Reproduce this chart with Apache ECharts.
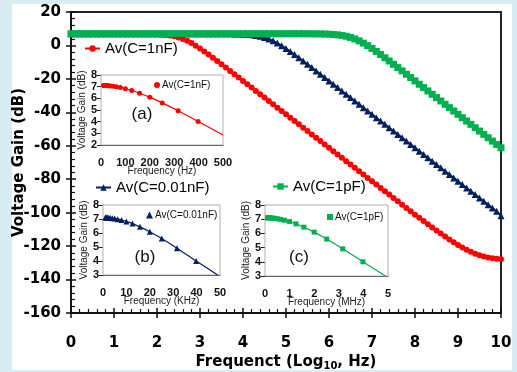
<!DOCTYPE html>
<html><head><meta charset="utf-8">
<script src="https://cdn.jsdelivr.net/npm/echarts@6/dist/echarts.min.js"></script>
<style>html,body{margin:0;padding:0;background:#d8ecf4;}#c{width:517px;height:372px;}</style>
</head><body><div id="c"></div>
<script>
// ---- main chart data (x = log10 of frequency) ----
const logFreq = [0,0.1,0.2,0.3,0.4,0.5,0.6,0.7,0.8,0.9,1,1.1,1.2,1.3,1.4,1.5,1.6,1.7,1.8,1.9,2,2.1,2.2,2.3,2.4,2.5,2.6,2.7,2.8,2.9,3,3.1,3.2,3.3,3.4,3.5,3.6,3.7,3.8,3.9,4,4.1,4.2,4.3,4.4,4.5,4.6,4.7,4.8,4.9,5,5.1,5.2,5.3,5.4,5.5,5.6,5.7,5.8,5.9,6,6.1,6.2,6.3,6.4,6.5,6.6,6.7,6.8,6.9,7,7.1,7.2,7.3,7.4,7.5,7.6,7.7,7.8,7.9,8,8.1,8.2,8.3,8.4,8.5,8.6,8.7,8.8,8.9,9,9.1,9.2,9.3,9.4,9.5,9.6,9.7,9.8,9.9,10];
const gain1nF = [7,7,7,7,7,7,7,7,7,7,7,7,7,7,7,7,
  6.95,6.93,6.89,6.82,6.72,6.57,6.33,5.99,5.49,4.8,3.89,2.75,1.4,-0.13,-1.81,-3.6,-5.45,-7.36,-9.3,-11.27,-13.24,-15.22,-17.22,-19.21,-21.2,
  -23.2,-25.2,-27.2,-29.2,-31.2,-33.2,-35.2,-37.2,-39.2,-41.2,
  -43.2,-45.2,-47.2,-49.2,-51.2,-53.2,-55.2,-57.2,-59.2,-61.2,
  -63.2,-65.2,-67.2,-69.2,-71.2,-73.2,-75.2,-77.2,-79.2,-81.2,
  -83.2,-85.2,-87.2,-89.2,-91.2,-93.2,-95.2,-97.2,-99.2,-101.2,
  -103.1,-105,-106.9,-108.8,-110.7,-112.5,-114.3,-116,-117.7,-119.3,
  -120.8,-122.2,-123.4,-124.5,-125.4,-126.2,-126.8,-127.3,-127.6,-127.8];
const gain001nF = [7,7,7,7,7,7,7,7,7,7,7,7,7,7,7,7,7,7,7,7,7,7,7,7,7,7,7,7,7,7,7,7,7,7,7,7,
  6.95,6.93,6.89,6.82,6.72,6.57,6.33,5.99,5.49,4.8,3.89,2.75,1.4,-0.13,-1.81,-3.6,-5.45,-7.36,-9.3,-11.27,-13.24,-15.22,-17.22,-19.21,-21.2,
  -23.2,-25.2,-27.2,-29.2,-31.2,-33.2,-35.2,-37.2,-39.2,-41.2,
  -43.2,-45.2,-47.2,-49.2,-51.2,-53.2,-55.2,-57.2,-59.2,-61.2,
  -63.2,-65.2,-67.2,-69.2,-71.2,-73.2,-75.2,-77.2,-79.2,-81.2,
  -83.2,-85.2,-87.2,-89.2,-91.2,-93.2,-95.2,-97.2,-99.2,-101.8];
const gain1pF = [7,7,7,7,7,7,7,7,7,7,7,7,7,7,7,7,7,7,7,7,7,7,7,7,7,7,7,7,7,7,7,7,7,7,7,7,7,7,7,7,7,7,7,7,7,7,7,7,7,7,7,7,7,7,7,7,
  6.95,6.93,6.89,6.82,6.72,6.57,6.33,5.99,5.49,4.8,3.89,2.75,1.4,-0.13,-1.81,-3.6,-5.45,-7.36,-9.3,-11.27,-13.24,-15.22,-17.22,-19.21,-21.2,
  -23.2,-25.2,-27.2,-29.2,-31.2,-33.2,-35.2,-37.2,-39.2,-41.2,
  -43.2,-45.2,-47.2,-49.2,-51.2,-53.2,-55.2,-57.2,-59.2,-61.2];

// ---- inset data ----
const insetAFreqHz = [10,12.6,15.8,20,25.1,31.6,39.8,50.1,63.1,79.4,100,126,158,200,251,316,398,500];
const insetAGain   = [7.1,7.1,7.1,7.1,7.09,7.07,7.06,7.03,6.99,6.93,6.83,6.67,6.44,6.1,5.61,4.93,4.02,2.86];
const insetBFreqKHz = [1,1.26,1.58,2,2.51,3.16,3.98,5.01,6.31,7.94,10,12.6,15.8,20,25.1,31.6,39.8,49];
const insetBGain    = [7.1,7.1,7.1,7.1,7.09,7.07,7.06,7.03,6.99,6.93,6.83,6.67,6.44,6.09,5.6,4.91,4.0,3.0];
const insetCFreqMHz = [0.1,0.126,0.158,0.2,0.251,0.316,0.398,0.501,0.631,0.794,1,1.26,1.58,2,2.51,3.16,3.98,4.9];
const insetCGain    = [7.1,7.1,7.1,7.1,7.09,7.07,7.06,7.03,6.99,6.93,6.83,6.67,6.44,6.09,5.6,4.91,4.0,3.0];

const mainYTicks = [20,0,-20,-40,-60,-80,-100,-120,-140,-160];
const mainXTicks = [0,1,2,3,4,5,6,7,8,9,10];

const RED='#ff0000', NAVY='#002060', GREEN='#00b050';
const zip=(a,b)=>a.map((v,i)=>[v,b[i]]);
const insetData=(a,b)=>a.map((v,i)=>i===a.length-1?{value:[v,b[i]],symbol:'none'}:[v,b[i]]);

const tickFont={fontFamily:'DejaVu Sans',fontWeight:'bold',fontSize:15,color:'#000'};
const insetLbl={fontFamily:'Liberation Sans',fontWeight:'bold',fontSize:11,color:'#111'};
const insetName={fontFamily:'Liberation Sans',fontSize:10,color:'#222'};

function insetX(grid,min,max,interval,name){
  return {gridIndex:grid,type:'value',min,max,interval,position:'bottom',nameMoveOverlap:false,
    axisLine:{onZero:false,lineStyle:{color:'#222',width:1}},axisTick:{show:false},splitLine:{show:false},
    axisLabel:Object.assign({margin:12},insetLbl),
    name,nameLocation:'middle',nameGap:21,nameTextStyle:insetName};
}
function insetY(grid,min,max){
  return {gridIndex:grid,type:'value',min,max,interval:1,position:'left',nameMoveOverlap:false,
    axisLine:{show:true,onZero:false,lineStyle:{color:'#222',width:1}},axisTick:{show:true,length:4,lineStyle:{color:'#222'}},splitLine:{show:false},
    axisLabel:Object.assign({margin:4},insetLbl),
    name:'Voltage Gain (dB)',nameLocation:'middle',nameGap:14,nameTextStyle:insetName};
}

const gridBase={outerBoundsMode:'none',containLabel:false,show:true};
const chart=echarts.init(document.getElementById('c'),null,{renderer:'canvas'});
chart.setOption({
  backgroundColor:'transparent',
  animation:false,
  graphic:[
    {type:'rect',z:-100,silent:true,shape:{x:12,y:4,width:500,height:366},style:{fill:'#fff'}},
    {type:'text',z:100,style:{text:'(a)',x:142,y:114,align:'center',verticalAlign:'middle',font:'17px "Liberation Sans"',fill:'#111'}},
    {type:'text',z:100,style:{text:'(b)',x:145,y:257,align:'center',verticalAlign:'middle',font:'17px "Liberation Sans"',fill:'#111'}},
    {type:'text',z:100,style:{text:'(c)',x:299,y:257,align:'center',verticalAlign:'middle',font:'17px "Liberation Sans"',fill:'#111'}}
  ],
  grid:[
    Object.assign({left:71,top:12,width:430,height:301,borderColor:'#222',borderWidth:2,backgroundColor:'#fff'},gridBase),
    Object.assign({left:101,top:75,width:122,height:70,borderColor:'#b0b0b0',borderWidth:1,backgroundColor:'#fff',z:5},gridBase),
    Object.assign({left:103,top:205,width:117,height:70,borderColor:'#b0b0b0',borderWidth:1,backgroundColor:'#fff',z:5},gridBase),
    Object.assign({left:265,top:205,width:123,height:71,borderColor:'#b0b0b0',borderWidth:1,backgroundColor:'#fff',z:5},gridBase)
  ],
  xAxis:[
    {gridIndex:0,type:'value',min:mainXTicks[0],max:mainXTicks[mainXTicks.length-1],interval:1,position:'bottom',nameMoveOverlap:false,
      axisLine:{onZero:false,lineStyle:{color:'#111',width:1.5}},axisTick:{show:true,length:5,lineStyle:{color:'#111',width:1.5}},
      splitLine:{show:false},axisLabel:Object.assign({margin:23},tickFont),
      name:'{a|Frequenct (Log}{s|10}{a|, Hz)}',nameLocation:'middle',nameGap:40,
      nameTextStyle:{rich:{a:{fontFamily:'DejaVu Sans',fontWeight:'bold',fontSize:15,color:'#000'},
        s:{fontFamily:'DejaVu Sans',fontWeight:'bold',fontSize:10,color:'#000',padding:[8,0,0,0]}}}},
    {gridIndex:0,type:'value',min:0,max:10,interval:1,position:'bottom',
      axisLine:{show:false,onZero:false},axisLabel:{show:false},splitLine:{show:false},
      axisTick:{show:true,inside:true,length:5,lineStyle:{color:'#111',width:1.5}},
      minorTick:{show:true,splitNumber:5,length:4,lineStyle:{color:'#111',width:1.2}}},
    insetX(1,0,500,100,'Frequency (Hz)'),
    insetX(2,0,50,10,'Frequency (KHz)'),
    insetX(3,0,5,1,'Frequency (MHz)')
  ],
  yAxis:[
    {gridIndex:0,type:'value',min:mainYTicks[mainYTicks.length-1],max:mainYTicks[0],interval:20,position:'left',nameMoveOverlap:false,
      axisLine:{show:true,onZero:false,lineStyle:{color:'#111',width:1.5}},axisTick:{show:true,length:5,lineStyle:{color:'#111',width:1.5}},
      splitLine:{show:false},axisLabel:Object.assign({margin:10},tickFont),
      name:'Voltage Gain (dB)',nameLocation:'middle',nameGap:44,
      nameTextStyle:{fontFamily:'DejaVu Sans',fontWeight:'bold',fontSize:15,color:'#000'}},
    {gridIndex:0,type:'value',min:-160,max:20,interval:20,position:'left',
      axisLine:{show:false,onZero:false},axisLabel:{show:false},splitLine:{show:false},
      axisTick:{show:true,inside:true,length:5,lineStyle:{color:'#111',width:1.5}},
      minorTick:{show:true,splitNumber:5,length:4,lineStyle:{color:'#111',width:1.2}}},
    insetY(1,2,8),
    insetY(2,3,8),
    insetY(3,3,8)
  ],
  legend:[
    {data:['Av(C=1nF)'],left:84,top:41,padding:0,itemWidth:15,itemHeight:8,
      textStyle:{fontFamily:'Liberation Sans',fontSize:15,color:'#000'}},
    {data:['Av(C=0.01nF)'],left:95,top:180,padding:0,itemWidth:15,itemHeight:8,
      textStyle:{fontFamily:'Liberation Sans',fontSize:15,color:'#000'}},
    {data:['Av(C=1pF)'],left:272,top:179,padding:0,itemWidth:15,itemHeight:8,
      textStyle:{fontFamily:'Liberation Sans',fontSize:15,color:'#000'}},
    {data:[{name:'insetA',icon:'circle'}],left:154,top:80,padding:0,itemWidth:6,itemHeight:6,z:10,
      formatter:()=> 'Av(C=1nF)',textStyle:{fontFamily:'Liberation Sans',fontSize:10,color:'#111',padding:[0,0,0,-3]}},
    {data:[{name:'insetB',icon:'triangle'}],left:146,top:210,padding:0,itemWidth:7,itemHeight:7,z:10,
      formatter:()=> 'Av(C=0.01nF)',textStyle:{fontFamily:'Liberation Sans',fontSize:10,color:'#111',padding:[0,0,0,-3]}},
    {data:[{name:'insetC',icon:'rect'}],left:327,top:212,padding:0,itemWidth:6,itemHeight:6,z:10,
      formatter:()=> 'Av(C=1pF)',textStyle:{fontFamily:'Liberation Sans',fontSize:10,color:'#111',padding:[0,0,0,-3]}}
  ],
  series:[
    {name:'Av(C=1nF)',type:'line',xAxisIndex:0,yAxisIndex:0,data:zip(logFreq,gain1nF),
      symbol:'circle',symbolSize:6,itemStyle:{color:RED},lineStyle:{color:RED,width:2},z:2},
    {name:'Av(C=0.01nF)',type:'line',xAxisIndex:0,yAxisIndex:0,data:zip(logFreq,gain001nF),
      symbol:'triangle',symbolSize:7,itemStyle:{color:NAVY},lineStyle:{color:NAVY,width:2},z:3},
    {name:'Av(C=1pF)',type:'line',xAxisIndex:0,yAxisIndex:0,data:zip(logFreq,gain1pF),
      symbol:'rect',symbolSize:7,itemStyle:{color:GREEN},lineStyle:{color:GREEN,width:2},z:4},
    {name:'insetA',type:'line',xAxisIndex:2,yAxisIndex:2,data:insetData(insetAFreqHz,insetAGain),smooth:0.3,
      symbol:'circle',symbolSize:5,itemStyle:{color:RED},lineStyle:{color:RED,width:1.2},z:10},
    {name:'insetB',type:'line',xAxisIndex:3,yAxisIndex:3,data:insetData(insetBFreqKHz,insetBGain),smooth:0.3,
      symbol:'triangle',symbolSize:6,itemStyle:{color:NAVY},lineStyle:{color:NAVY,width:1.2},z:10},
    {name:'insetC',type:'line',xAxisIndex:4,yAxisIndex:4,data:insetData(insetCFreqMHz,insetCGain),smooth:0.3,
      symbol:'rect',symbolSize:5,itemStyle:{color:GREEN},lineStyle:{color:GREEN,width:1.2},z:10}
  ]
});
</script></body></html>
